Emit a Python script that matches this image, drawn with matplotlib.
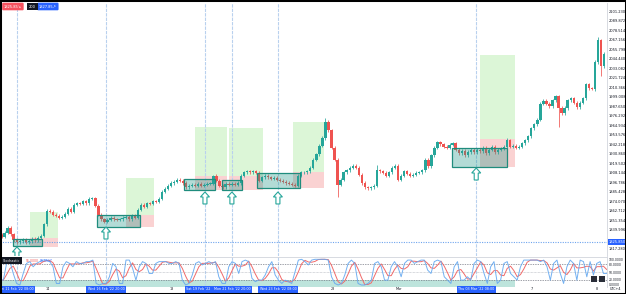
import numpy as np
import pandas as pd
import matplotlib
matplotlib.use("Agg")
import matplotlib.pyplot as plt
from matplotlib.patches import Rectangle, Polygon

# ---------------- data ----------------
first_open = 1834.0
closes = [
    1831.6, 1836.5, 1842.5, 1835.0, 1828.0, 1825.6, 1826.8, 1828.0, 1825.6, 1826.8,
    1829.2, 1828.0, 1830.4, 1833.0, 1846.5, 1863.0, 1862.0, 1858.0, 1857.0, 1854.5,
    1855.7, 1859.3, 1865.0, 1861.5, 1870.0, 1872.0, 1871.0, 1874.5, 1872.0, 1877.0,
    1878.0, 1868.6, 1858.0, 1853.0, 1849.5, 1851.9, 1854.3, 1853.0, 1852.0, 1853.0,
    1854.3, 1855.5, 1853.0, 1856.7, 1854.3, 1864.0, 1870.0, 1867.6, 1872.0, 1871.0,
    1874.5, 1873.5, 1877.0, 1885.3, 1889.0, 1892.5, 1896.0, 1897.3, 1899.6, 1898.5,
    1896.0, 1891.2, 1892.5, 1893.7, 1892.5, 1895.0, 1892.5, 1893.7, 1895.0, 1895.0,
    1904.4, 1898.5, 1892.5, 1891.2, 1895.0, 1893.7, 1895.0, 1893.7, 1896.0, 1904.4,
    1909.0, 1910.3, 1909.0, 1910.3, 1908.0, 1898.5, 1903.0, 1904.4, 1903.0, 1900.8,
    1902.0, 1899.6, 1898.5, 1897.3, 1896.0, 1895.0, 1893.7, 1892.5, 1904.4, 1909.0,
    1909.0, 1910.3, 1914.0, 1923.5, 1930.6, 1940.2, 1949.7, 1968.8, 1959.2, 1937.8,
    1923.5, 1893.7, 1899.6, 1909.0, 1911.5, 1914.0, 1916.3, 1914.0, 1905.6, 1896.0,
    1891.2, 1890.0, 1891.2, 1892.5, 1911.5, 1910.3, 1908.0, 1904.4, 1909.0, 1914.0,
    1916.3, 1899.6, 1904.4, 1910.3, 1906.8, 1904.4, 1905.6, 1908.0, 1909.0, 1911.5,
    1923.5, 1916.3, 1929.4, 1937.8, 1944.9, 1942.5, 1939.0, 1937.8, 1941.4, 1943.7,
    1935.4, 1931.8, 1934.2, 1929.4, 1933.0, 1935.4, 1933.0, 1935.4, 1934.2, 1937.8,
    1931.8, 1935.4, 1939.0, 1933.0, 1935.4, 1936.6, 1939.0, 1947.3, 1939.0, 1940.2,
    1937.8, 1939.0, 1943.7, 1947.3, 1952.0, 1961.6, 1966.4, 1971.2, 1990.3, 1993.9,
    1990.3, 1987.9, 1995.0, 1999.8, 1985.5, 1979.5, 1985.5, 1995.0, 1997.4, 1991.5,
    1986.7, 1991.5, 1997.4, 2014.1, 2009.3, 2008.2, 2040.4, 2066.6, 2035.6, 2050.0,
]
high_override = {2: 1845.0, 107: 1973.6, 124: 1917.5, 167: 1950.0, 197: 2070.2,
                 70: 1906.0, 98: 1906.5, 183: 2001.5}
low_override = {111: 1879.3, 184: 1962.8, 178: 1970.0, 196: 2006.0, 198: 2024.0}
wick = 1.8

# stochastic %K samples (evenly spaced over the chart width)
stoch_k = [
    19, 19, 84, 91, 45, 6, 0, 45, 84, 91, 71, 84, 91, 97, 97, 91, 71, 6, 6, 71,
    91, 84, 71, 91, 84, 84, 91, 91, 97, 6, 0, 6, 6, 32, 84, 71, 6, 6, 97, 97,
    65, 19, 71, 91, 84, 45, 45, 84, 91, 91, 91, 84, 84, 91, 84, 19, 0, 6, 39, 84, 91,
    78, 84, 91, 84, 91, 32, 6, 6, 71, 91, 84, 45, 91, 97, 91, 26, 13, 19, 19, 39,
    71, 91, 39, 19, 6, 19, 13, 6, 52, 97, 100, 91, 78, 97, 100, 100, 100, 100, 97, 32,
    6, 0, 6, 39, 84, 97, 84, 6, 0, 0, 6, 19, 84, 91, 71, 19, 19, 71, 91, 71,
    32, 84, 97, 97, 84, 91, 97, 97, 58, 45, 91, 97, 91, 32, 19, 6, 71, 91, 19, 19,
    32, 19, 84, 97, 91, 45, 6, 71, 91, 6, 19, 84, 91, 45, 32, 19, 71, 97, 97, 97,
    97, 97, 91, 97, 71, 19, 84, 97, 45, 6, 71, 97, 84, 19, 97, 91, 32, 91, 39, 84,
    91, 45, 45,
]

price_ticks = [2101.230 - 11.358 * k for k in range(26)]
current_price = 1825.85

# consolidation boxes: (x0, x1, low, high) in bar index / price
boxes = [(3.8, 13.4, 1820.9, 1829.2), (31.5, 45.8, 1843.5, 1857.9),
         (60.3, 70.5, 1887.7, 1900.8), (72.8, 79.4, 1887.7, 1899.6),
         (84.4, 98.6, 1890.0, 1907.9), (148.8, 167.0, 1915.1, 1937.8)]
# long positions: (x0, x1, stop, entry, target)
positions = [(9.4, 18.7, 1819.7, 1830.4, 1861.4), (41.1, 50.4, 1843.5, 1857.9, 1902.0),
             (63.9, 74.5, 1887.7, 1904.4, 1962.8), (75.2, 86.4, 1887.7, 1904.4, 1961.6),
             (96.3, 106.5, 1890.0, 1909.0, 1968.8), (158.1, 169.6, 1915.1, 1948.5, 2048.7)]
# signal bars (vertical lines + arrows): (bar, arrow tip price)
signals = [(5.1, 1819.7), (34.5, 1843.5), (67.2, 1885.3), (76.1, 1885.3),
           (91.3, 1885.3), (156.8, 1913.9)]

time_labels = ["Fri 11 Feb '22 08:00", "14", "Wed 16 Feb '22 20:00", "18",
               "Sat 19 Feb '22", "Mon 21 Feb '22 20:00", "Wed 23 Feb '22 08:00",
               "28", "Mar", "Thu 03 Mar '22 08:00", "7", "8"]
time_pos = [5.1, 15.4, 34.5, 56.3, 67.2, 76.1, 91.3, 109.5, 131.3, 156.8, 175.3, 196.7]
time_hl = [True, False, True, False, True, True, True, False, False, True, False, False]

stoch_levels = [100, 80, 50, 20, 0]

# ---------------- figure ----------------
W, H = 626, 294
fig = plt.figure(figsize=(W / 100, H / 100), dpi=100)
fig.patch.set_facecolor("white")

def fx(px):
    return px / W

def fy(py):
    return 1 - py / H

UP, DN = "#26a69a", "#ef5350"
VLINE = "#b9d1ee"
FS = 2.6

ax = fig.add_axes([0, fy(256), fx(607), (256 - 3) / H])
ax2 = fig.add_axes([0, fy(287), fx(607), (287 - 257) / H], sharex=ax)

n = len(closes)
x = np.arange(n)
opens = [first_open] + closes[:-1]
ax.set_xlim(-0.5, 200.0)
ax.set_ylim(1808.9, 2110.8)

# position tools
for (x0, x1, sl, en, tp) in positions:
    ax.add_patch(Rectangle((x0, en), x1 - x0, tp - en, facecolor="#dcf6d7",
                           edgecolor="none", zorder=1))
    ax.add_patch(Rectangle((x0, sl), x1 - x0, en - sl, facecolor="#fad2d2",
                           edgecolor="none", zorder=1))

# vertical signal lines
for (sx, _) in signals:
    for a in (ax, ax2):
        a.axvline(sx, color=VLINE, lw=0.8, ls=(0, (3, 1)), zorder=1.5)

# current price line
ax.axhline(current_price, color="#6fa5ee", lw=0.8, ls=(0, (1, 1.2)), zorder=1.5)

# candles
for i in range(n):
    o, c = opens[i], closes[i]
    col = UP if c >= o else DN
    hi = high_override.get(i, max(o, c) + wick)
    lo = low_override.get(i, min(o, c) - wick)
    ax.vlines(x[i], lo, hi, color=col, lw=0.55, zorder=3)
    body = max(abs(c - o), 0.7)
    ax.add_patch(Rectangle((x[i] - 0.38, min(o, c)), 0.76, body, facecolor=col,
                           edgecolor="none", zorder=3))

# boxes
for (x0, x1, lo, hi) in boxes:
    ax.add_patch(Rectangle((x0, lo), x1 - x0, hi - lo,
                           facecolor=(0.15, 0.6, 0.55, 0.35),
                           edgecolor="#1f8c7d", lw=0.9, zorder=4))

# arrows
bx, py = 200.5 / 607, 1.193
for (sx, tip) in signals:
    pts = [(0, 0), (4.5, 5), (2, 5), (2, 12), (-2, 12), (-2, 5), (-4.5, 5)]
    poly = [(sx + dx * bx, tip - dy * py) for dx, dy in pts]
    ax.add_patch(Polygon(poly, closed=True, facecolor="white", edgecolor="#26a69a",
                         lw=0.8, zorder=5))

# axes styling
for s in ["left", "top", "bottom"]:
    ax.spines[s].set_visible(False)
ax.spines["right"].set_color("#d1d4dc")
ax.spines["right"].set_linewidth(0.6)
ax.yaxis.tick_right()
ax.set_yticks(price_ticks)
ax.set_yticklabels(["" if abs(v - current_price) < 5 else f"{v:.3f}" for v in price_ticks])
ax.tick_params(axis="y", length=0, pad=1.5, labelsize=FS, labelcolor="#131722")
ax.tick_params(axis="x", bottom=False, labelbottom=False)

# price label
ax.text(1.003, current_price, f"{current_price:.3f}", transform=ax.get_yaxis_transform(),
        fontsize=FS, color="white", va="center", ha="left", zorder=10,
        bbox=dict(boxstyle="square,pad=0.35", fc="#2962ff", ec="none"), clip_on=False)

# ---------------- stochastic ----------------
ax2.set_ylim(-7.8, 109)
k = pd.Series(stoch_k, dtype=float)
d = k.rolling(3, min_periods=1).mean()
sx_pos = np.linspace(-0.5, 199.9, len(stoch_k))
ax2.add_patch(Rectangle((-0.5, -7.8), 170.1, 27.8, facecolor=(0.15, 0.65, 0.55, 0.3),
                        edgecolor="none", zorder=1))
ax2.axhline(80, color="#787b86", lw=0.5, ls=(0, (2, 1.5)), zorder=1.6)
ax2.axhline(50, color="#b2b5be", lw=0.5, ls=(0, (1, 1)), zorder=1.6)
ax2.axhline(20, color="#787b86", lw=0.5, ls=(0, (2, 1.5)), zorder=1.6)
ax2.plot(sx_pos, d, color="#f06a6a", lw=0.7, zorder=3)
ax2.plot(sx_pos, k, color="#64a8f0", lw=0.7, zorder=3, alpha=0.9)
for s in ["left", "bottom"]:
    ax2.spines[s].set_visible(False)
ax2.spines["top"].set_color("#d1d4dc")
ax2.spines["top"].set_linewidth(0.6)
ax2.spines["right"].set_color("#d1d4dc")
ax2.spines["right"].set_linewidth(0.6)
ax2.yaxis.tick_right()
ax2.set_yticks(stoch_levels)
ax2.set_yticklabels([f"{v:.4f}" for v in stoch_levels])
ax2.tick_params(axis="y", length=0, pad=1.5, labelsize=2.2, labelcolor="#131722")
ax2.tick_params(axis="x", bottom=False, labelbottom=False)

ax2.text(fx(3) / fx(607), 0.88, "Stochastic", transform=ax2.transAxes, fontsize=2.4,
         color="white", va="center", ha="left", zorder=10,
         bbox=dict(boxstyle="square,pad=0.4", fc="#131722", ec="none"))
ax2.text(fx(26) / fx(607), 0.88, "55.0000", transform=ax2.transAxes, fontsize=2.2,
         color="#ef5350", va="center", ha="left", zorder=10)
ax2.text(fx(40) / fx(607), 0.88, "56.5517", transform=ax2.transAxes, fontsize=2.2,
         color="#2962ff", va="center", ha="left", zorder=10)
for bxp in (591, 599):
    fig.patches.append(Rectangle((fx(bxp), fy(282)), fx(6), 6 / H, transform=fig.transFigure,
                                 facecolor="#2a2e39", edgecolor="none", zorder=20))

# ---------------- time axis ----------------
for lab, pos, hl in zip(time_labels, time_pos, time_hl):
    xpix = (pos + 0.5) * 607 / 200.5
    ha = "center"
    if lab.startswith("Sat"):
        xpix, ha = 210.5, "right"
    if hl:
        fig.text(fx(xpix), fy(289.5), lab, fontsize=2.4, color="white", ha=ha,
                 va="center", zorder=20,
                 bbox=dict(boxstyle="square,pad=0.4", fc="#2962ff", ec="none"))
    else:
        fig.text(fx(xpix), fy(289.5), lab, fontsize=2.4, color="#131722", ha=ha,
                 va="center")
fig.text(fx(616), fy(289.5), "UTC+4", fontsize=2.4, color="#131722", ha="center",
         va="center")

# ---------------- top-left buttons ----------------
fig.text(fx(4), fy(6.5), "1825.85\u2198", fontsize=2.6, color="white", ha="left",
         va="center", zorder=20,
         bbox=dict(boxstyle="round,pad=0.5,rounding_size=0.3", fc="#f7525f", ec="none"))
fig.text(fx(29), fy(6.5), "200", fontsize=2.6, color="white", ha="left", va="center",
         zorder=21, bbox=dict(boxstyle="square,pad=0.5", fc="#131722", ec="none"))
fig.text(fx(39), fy(6.5), "1827.85\u2197", fontsize=2.6, color="white", ha="left",
         va="center", zorder=20,
         bbox=dict(boxstyle="round,pad=0.5,rounding_size=0.3", fc="#2962ff", ec="none"))

# frame
fig.patches.append(Rectangle((0, 0), 1, 1, transform=fig.transFigure, fill=False,
                             edgecolor="black", lw=2.2, zorder=30))

fig.savefig("out.png", dpi=100)
